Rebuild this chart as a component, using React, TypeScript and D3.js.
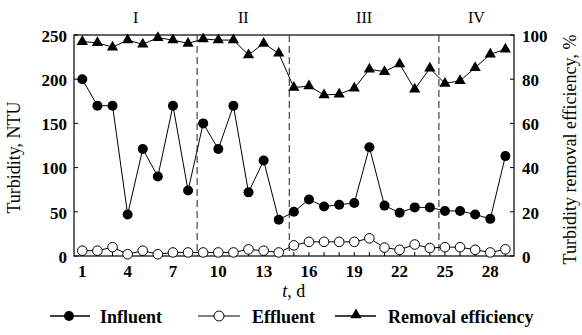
import React from "react";
import * as d3 from "d3";

const days = d3.range(1, 30);
const influent = [200, 170, 170, 47, 121, 90, 170, 74, 150, 121, 170, 72, 108, 41, 50, 64, 56, 58, 60, 123, 57, 49, 55, 55, 51, 51, 47, 42, 113];
const effluent = [6, 6, 10, 2, 6, 2, 4, 4, 4, 4, 4, 7.5, 6, 4, 12, 16, 16, 16, 16, 20, 9.5, 7, 13, 9, 10, 10, 7, 4, 7.5];
const removal = [97, 96.5, 94.5, 97.7, 95.8, 98.8, 97.7, 96.2, 98.2, 97.7, 97.7, 91, 96.2, 91.7, 76.2, 76.9, 72.9, 73.2, 75.9, 84.5, 83.4, 86.9, 75.4, 84.9, 78.1, 79.3, 85.2, 91.3, 93.5];
const boundaries = [8.6, 14.7, 24.6];
const periods = ["I", "II", "III", "IV"];
const leftTicks = [0, 50, 100, 150, 200, 250];
const rightTicks = [0, 20, 40, 60, 80, 100];
const xTickLabels = [1, 4, 7, 10, 13, 16, 19, 22, 25, 28];

const W = 582, H = 335;
const L = 74, R = 514, T = 35, B = 256;
const FONT = "'Liberation Serif', 'Times New Roman', serif";

export default function App() {
  const x = d3.scaleLinear().domain([0.45, 29.57]).range([L, R]);
  const yL = d3.scaleLinear().domain([0, 250]).range([B, T]);
  const yR = d3.scaleLinear().domain([0, 100]).range([B, T]);

  const lineL = d3.line<number>().x((_, i) => x(days[i])).y((v) => yL(v));
  const lineR = d3.line<number>().x((_, i) => x(days[i])).y((v) => yR(v));
  const tri = d3.symbol().type(d3.symbolTriangle).size(55)()!;

  const edges = [0.45, ...boundaries, 29.57];

  return (
    <svg width={W} height={H} style={{ position: "absolute", left: 0, top: 0, background: "#fff" }} fontFamily={FONT}>
      <rect x={0} y={0} width={W} height={H} fill="#fff" />
      {/* frame */}
      <rect x={L} y={T} width={R - L} height={B - T} fill="none" stroke="#000" strokeWidth={1.2} />
      {/* boundaries */}
      {boundaries.map((b, i) => (
        <line key={i} x1={x(b)} x2={x(b)} y1={T} y2={B} stroke="#444" strokeWidth={1.2} strokeDasharray="7,4" />
      ))}
      {/* period labels */}
      {periods.map((p, i) => (
        <text key={p} x={x((edges[i] + edges[i + 1]) / 2)} y={23} fontSize={16} textAnchor="middle">{p}</text>
      ))}
      {/* x ticks */}
      {days.map((d) => (
        <line key={d} x1={x(d)} x2={x(d)} y1={B} y2={B - 4} stroke="#000" />
      ))}
      {xTickLabels.map((d) => (
        <text key={d} x={x(d)} y={277} fontSize={17} fontWeight="bold" textAnchor="middle">{d}</text>
      ))}
      {/* left ticks */}
      {leftTicks.map((t) => (
        <g key={t}>
          <line x1={L} x2={L + 4} y1={yL(t)} y2={yL(t)} stroke="#000" />
          <text x={67} y={yL(t)} dy="0.4em" fontSize={17} fontWeight="bold" textAnchor="end">{t}</text>
        </g>
      ))}
      {/* right ticks */}
      {rightTicks.map((t) => (
        <g key={t}>
          <line x1={R} x2={R - 4} y1={yR(t)} y2={yR(t)} stroke="#000" />
          <text x={522} y={yR(t)} dy="0.4em" fontSize={17} fontWeight="bold" textAnchor="start">{t}</text>
        </g>
      ))}
      {/* axis titles */}
      <text transform={`translate(20,${(T + B) / 2 + 12}) rotate(-90)`} fontSize={18} textAnchor="middle">Turbidity, NTU</text>
      <text transform={`translate(576,${(T + B) / 2 + 4}) rotate(-90)`} fontSize={18} textAnchor="middle">Turbidity removal efficiency, %</text>
      <text x={x(15)} y={297} fontSize={18} textAnchor="middle"><tspan fontStyle="italic">t</tspan>, d</text>

      {/* series */}
      <path d={lineL(effluent)!} fill="none" stroke="#000" strokeWidth={1} />
      {effluent.map((v, i) => (
        <circle key={i} cx={x(days[i])} cy={yL(v)} r={4.8} fill="#fff" stroke="#000" strokeWidth={1} />
      ))}
      <path d={lineL(influent)!} fill="none" stroke="#000" strokeWidth={1} />
      {influent.map((v, i) => (
        <circle key={i} cx={x(days[i])} cy={yL(v)} r={5} fill="#000" />
      ))}
      <path d={lineR(removal)!} fill="none" stroke="#000" strokeWidth={1} />
      {removal.map((v, i) => (
        <path key={i} d={tri} transform={`translate(${x(days[i])},${yR(v)})`} fill="#000" />
      ))}

      {/* legend */}
      <g>
        <line x1={50} x2={90} y1={316} y2={316} stroke="#000" strokeWidth={1.5} />
        <circle cx={69} cy={316} r={5} fill="#000" />
        <text x={100} y={323} fontSize={18} fontWeight="bold">Influent</text>

        <line x1={198} x2={240} y1={316} y2={316} stroke="#000" strokeWidth={1.2} />
        <circle cx={219} cy={316} r={5} fill="#fff" stroke="#000" />
        <text x={252} y={323} fontSize={18} fontWeight="bold">Effluent</text>

        <line x1={335} x2={376} y1={316} y2={316} stroke="#000" strokeWidth={1.5} />
        <path d={tri} transform={`translate(356,315)`} fill="#000" />
        <text x={388} y={323} fontSize={18} fontWeight="bold">Removal efficiency</text>
      </g>
    </svg>
  );
}
